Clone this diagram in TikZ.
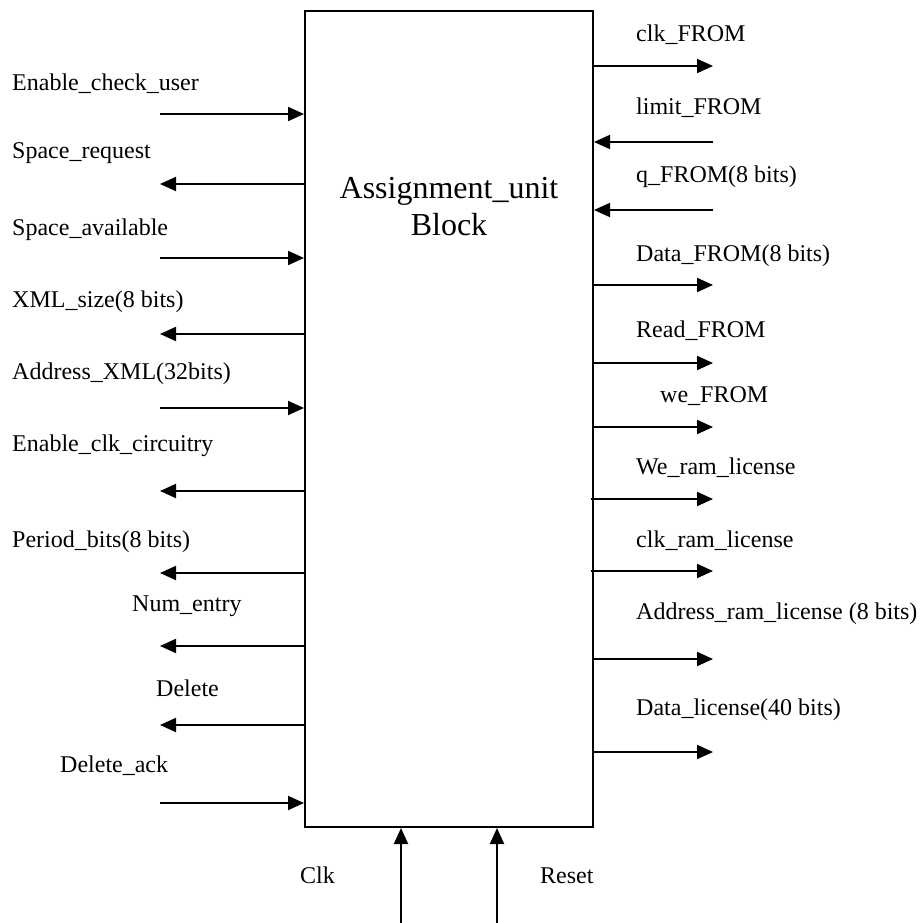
\documentclass[tikz,border=0pt]{standalone}
\usepackage{fontspec}
\setmainfont{Liberation Serif}
\usetikzlibrary{arrows.meta}

\tikzset{
  blockbox/.style={draw, line width=2pt, inner sep=0pt,
                   minimum width=288pt, minimum height=816pt},
  sig/.style={anchor=base west, inner sep=0pt,
              font=\fontsize{24}{28}\selectfont},
  title/.style={align=center, inner sep=0pt,
                font=\fontsize{32}{37}\selectfont},
  wire/.style={line width=2pt, -{Triangle[length=16pt,width=14pt]}}
}

\begin{document}
\begin{tikzpicture}[x=1pt, y=-1pt]
\useasboundingbox (0,0) rectangle (920,923);

% the block
\node[blockbox] (blk) at (449,419) {};
% base anchor sits on the last line of the title
\node[title, anchor=base] (ttl) at (449,235) {Assignment\_unit\\Block};

% left-side ports
\node[sig] (l1)  at (12,91)   {Enable\_check\_user};
\node[sig] (l2)  at (12,158)  {Space\_request};
\node[sig] (l3)  at (12,235)  {Space\_available};
\node[sig] (l4)  at (12,307)  {XML\_size(8 bits)};
\node[sig] (l5)  at (12,379)  {Address\_XML(32bits)};
\node[sig] (l6)  at (12,451)  {Enable\_clk\_circuitry};
\node[sig] (l7)  at (12,547)  {Period\_bits(8 bits)};
\node[sig] (l8)  at (132,611) {Num\_entry};
\node[sig] (l9)  at (156,696) {Delete};
\node[sig] (l10) at (60,772)  {Delete\_ack};

\foreach \n/\y in {1/114,2/184,3/258,4/334,5/408,6/491,7/573,8/646,9/725,10/803}
  \coordinate (lw\n) at (160,\y);

% inputs into the block
\foreach \n in {1,3,5,10}
  \draw[wire] (lw\n) -- (lw\n -| blk.west);
% outputs from the block
\foreach \n in {2,4,6,7,8,9}
  \draw[wire] (lw\n -| blk.west) -- (lw\n);

% right-side ports
\node[sig] (r1)  at (636,42)  {clk\_FROM};
\node[sig] (r2)  at (636,114) {limit\_FROM};
\node[sig] (r3)  at (636,182) {q\_FROM(8 bits)};
\node[sig] (r4)  at (636,261) {Data\_FROM(8 bits)};
\node[sig] (r5)  at (636,337) {Read\_FROM};
\node[sig] (r6)  at (660,402) {we\_FROM};
\node[sig] (r7)  at (636,474) {We\_ram\_license};
\node[sig] (r8)  at (636,547) {clk\_ram\_license};
\node[sig] (r9)  at (636,619) {Address\_ram\_license (8 bits)};
\node[sig] (r10) at (636,715) {Data\_license(40 bits)};

\foreach \n/\y in {1/66,2/142,3/210,4/285,5/363,6/427,7/499,8/571,9/659,10/752}
  \coordinate (rw\n) at (713,\y);

% inputs into the block
\foreach \n in {2,3}
  \draw[wire] (rw\n) -- (rw\n -| blk.east);
% outputs from the block
\foreach \n in {1,4,5,6,9,10}
  \draw[wire] (rw\n -| blk.east) -- (rw\n);
\foreach \n in {7,8}
  \draw[wire] ([xshift=-3pt]rw\n -| blk.east) -- (rw\n);

% clock and reset from below
\node[sig] (clk) at (300,883) {Clk};
\node[sig] (rst) at (540,883) {Reset};
\coordinate (cw) at (401,923);
\coordinate (rw) at (497,923);
\draw[wire] (cw) -- (cw |- blk.south);
\draw[wire] (rw) -- (rw |- blk.south);
\end{tikzpicture}
\end{document}
